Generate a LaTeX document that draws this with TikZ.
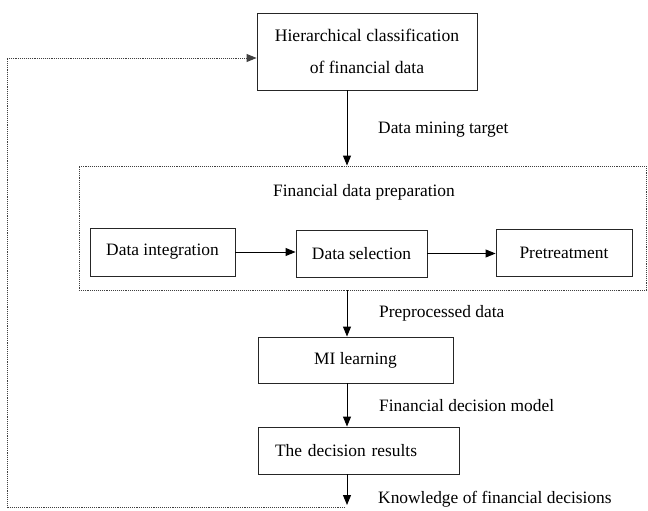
\documentclass[tikz,border=0pt]{standalone}
\usepackage{fontspec}
\setmainfont{Liberation Serif}
\usetikzlibrary{arrows.meta}
\tikzset{
  box/.style={draw=black!85, line width=0.9bp, rectangle, inner sep=0pt, text=black},
  lbl/.style={anchor=west, inner sep=0pt, text=black},
  txt/.style={inner sep=0pt, text=black},
  arr/.style={draw=black, line width=1bp, -{Triangle[length=10bp,width=8bp]}},
  dots/.style={draw=black!75, line width=0.9bp, densely dotted},
}
\begin{document}
\begin{tikzpicture}[x=1bp,y=-1bp,font=\fontsize{17.4bp}{21bp}\selectfont]
\useasboundingbox (0,0) rectangle (648,511);
\coordinate (axis) at (347,0);
% top box
\node[box, minimum width=220bp, minimum height=77bp, align=center,
      font=\fontsize{17.6bp}{32bp}\selectfont] (top) at (367,51.5)
  {Hierarchical classification\\of financial data};
% preparation dashed box
\node[dots, rectangle, minimum width=567bp, minimum height=124bp, inner sep=0pt] (prep) at (362.5,228) {};
\node[txt] (preplbl) at (364,192) {Financial data preparation};
\node[box, minimum width=145bp, minimum height=48bp] (di) at (162.5,252) {Data integration};
\node[box, minimum width=131bp, minimum height=47bp] (ds) at (361.5,253.5) {Data selection};
\node[box, minimum width=136bp, minimum height=47bp] (pt) at (564,252.5) {Pretreatment};
% lower boxes
\node[box, minimum width=195bp, minimum height=46bp] (ml) at (355.5,360) {MI learning};
\node[box, minimum width=201bp, minimum height=47bp, text width=167bp, inner xsep=17bp, align=left] (dr) at (358.5,450.5) {The decision results};
\coordinate (end) at (347,505);
\coordinate (fb1) at (345,507);
\coordinate (fb2) at (7,507);
\coordinate (fb3) at (7,58);
% arrows
\draw[arr] (top.south -| axis) -- (prep.north -| axis);
\draw[arr] (di.east) -- (di.east -| ds.west);
\draw[arr] (ds.east) -- (ds.east -| pt.west);
\draw[arr] (prep.south -| axis) -- (ml.north -| axis);
\draw[arr] (ml.south -| axis) -- (dr.north -| axis);
\draw[arr] (dr.south -| axis) -- (end);
% feedback loop
\draw[dots, -{Triangle[length=10bp,width=8bp]}] (fb1) -- (fb2) -- (fb3) -- (fb3 -| top.west);
% labels
\node[lbl] (l1) at (378,130) {Data mining target};
\node[lbl] (l2) at (379,313) {Preprocessed data};
\node[lbl] (l3) at (379,406) {Financial decision model};
\node[lbl] (l4) at (378,499) {Knowledge of financial decisions};
\end{tikzpicture}
\end{document}
